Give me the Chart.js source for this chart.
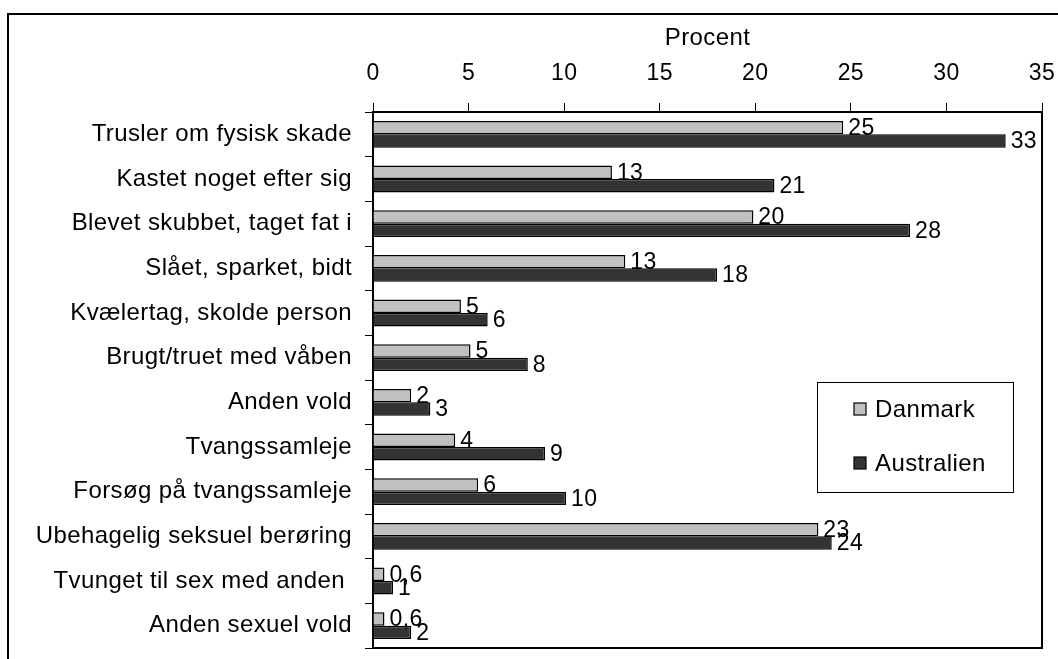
<!DOCTYPE html>
<html>
<head>
<meta charset="utf-8">
<script src="https://cdn.jsdelivr.net/npm/chart.js@4"></script>
<style>
    html, body { margin: 0; padding: 0; background: #fff; overflow: hidden; }
    #frame {
        position: absolute; left: 7px; top: 13px; width: 1200px; height: 800px;
        border-left: 2px solid #000; border-top: 2px solid #000;
    }
    #chart_id { position: absolute; left: 0; top: 0; }
</style>
</head>
<body>
<div id="frame"></div>
<canvas id="chart_id" width="1058" height="659"></canvas>
<script>
const categories = [
    'Trusler om fysisk skade',
    'Kastet noget efter sig',
    'Blevet skubbet, taget fat i',
    'Slået, sparket, bidt',
    'Kvælertag, skolde person',
    'Brugt/truet med våben',
    'Anden vold',
    'Tvangssamleje',
    'Forsøg på tvangssamleje',
    'Ubehagelig seksuel berøring',
    'Tvunget til sex med anden ',
    'Anden sexuel vold'
];
// bar lengths
const danmark = [24.6, 12.5, 19.9, 13.2, 4.6, 5.1, 2.0, 4.3, 5.5, 23.3, 0.6, 0.6];
const australien = [33.1, 21.0, 28.1, 18.0, 6.0, 8.1, 3.0, 9.0, 10.1, 24.0, 1.05, 2.0];
// printed labels next to the bars
const danmarkLabels = ['25', '13', '20', '13', '5', '5', '2', '4', '6', '23', '0,6', '0,6'];
const australienLabels = ['33', '21', '28', '18', '6', '8', '3', '9', '10', '24', '1', '2'];
const seriesNames = ['Danmark', 'Australien'];

const COLORS = {
    LIGHT: '#c0c0c0',
    DARK: '#333333',
    BLACK: '#000000'
};
const FONT = '"Liberation Sans", Arial, sans-serif';
const SPACING = '0.4px';

Chart.defaults.color = COLORS.BLACK;
Chart.defaults.font.family = FONT;
Chart.defaults.font.size = 24;

// canvas letter spacing, source text is set a bit loose
const spacingPlugin = {
    id: 'spacing',
    beforeUpdate(chart) { chart.ctx.letterSpacing = SPACING; },
    beforeDraw(chart) { chart.ctx.letterSpacing = SPACING; }
};

const valueLabelPlugin = {
    id: 'valueLabels',
    afterDatasetsDraw(chart) {
        const ctx = chart.ctx;
        ctx.save();
        ctx.letterSpacing = SPACING;
        ctx.font = '23px ' + FONT;
        ctx.fillStyle = COLORS.BLACK;
        ctx.textAlign = 'left';
        ctx.textBaseline = 'middle';
        [danmarkLabels, australienLabels].forEach((labels, di) => {
            chart.getDatasetMeta(di).data.forEach((bar, i) => {
                ctx.fillText(labels[i], bar.x + 5, bar.y + 1);
            });
        });
        ctx.restore();
    }
};

const boxPlugin = {
    id: 'plotBox',
    afterDraw(chart) {
        const ctx = chart.ctx;
        const a = chart.chartArea;
        ctx.save();
        ctx.strokeStyle = COLORS.BLACK;
        ctx.lineWidth = 2;
        ctx.beginPath();
        ctx.moveTo(a.left, a.top);
        ctx.lineTo(a.right, a.top);
        ctx.lineTo(a.right, a.bottom);
        ctx.lineTo(a.left - 1, a.bottom);
        ctx.stroke();
        ctx.fillStyle = COLORS.BLACK;
        ctx.fillRect(a.left - 1, a.bottom - 1, a.right - a.left + 2, 2);

        // legend box inside the plot
        const x = a.right - 225, y = a.top + 270, w = 196, h = 110;
        ctx.lineWidth = 1;
        ctx.fillStyle = '#fff';
        ctx.fillRect(x, y, w, h);
        ctx.strokeRect(x + 0.5, y + 0.5, w, h);
        ctx.letterSpacing = SPACING;
        ctx.font = '24px ' + FONT;
        ctx.textAlign = 'left';
        ctx.textBaseline = 'middle';
        chart.data.datasets.forEach((ds, i) => {
            const cy = y + 27 + i * 54;
            ctx.fillStyle = ds.backgroundColor;
            ctx.fillRect(x + 37, cy - 6, 12, 12);
            ctx.strokeStyle = COLORS.BLACK;
            ctx.lineWidth = 1.2;
            ctx.strokeRect(x + 37, cy - 6, 12, 12);
            ctx.fillStyle = COLORS.BLACK;
            ctx.fillText(ds.label, x + 58, cy + 1);
        });
        ctx.restore();
    }
};

// drop the extra room chart.js keeps for edge labels
const noEdgePadding = (scale) => {
    scale.paddingTop = 0;
    scale.paddingBottom = 0;
    scale.paddingLeft = 0;
    scale.paddingRight = 0;
};

const config = {
    type: 'bar',
    data: {
        labels: categories,
        datasets: [
            {
                label: seriesNames[0],
                data: danmark,
                backgroundColor: COLORS.LIGHT,
                borderColor: COLORS.BLACK,
                borderWidth: 1.5,
                categoryPercentage: 0.6,
                barPercentage: 1.0
            },
            {
                label: seriesNames[1],
                data: australien,
                backgroundColor: COLORS.DARK,
                borderColor: COLORS.BLACK,
                borderWidth: 1.5,
                categoryPercentage: 0.6,
                barPercentage: 1.0
            }
        ]
    },
    options: {
        indexAxis: 'y',
        responsive: false,
        animation: false,
        layout: {
            padding: { top: 14, right: 16, bottom: 11, left: 0 }
        },
        plugins: {
            legend: { display: false },
            tooltip: { enabled: false }
        },
        scales: {
            x: {
                position: 'top',
                min: 0,
                max: 35,
                ticks: { stepSize: 5, padding: 16, font: { size: 23, lineHeight: 1.2 } },
                grid: { drawOnChartArea: false, tickLength: 9, color: COLORS.BLACK },
                border: { color: COLORS.BLACK, width: 2 },
                title: {
                    display: true,
                    text: 'Procent',
                    font: { size: 24, lineHeight: 1.2 },
                    padding: { top: 10, bottom: 5 }
                },
                afterFit: (scale) => {
                    scale.height = 98;
                    noEdgePadding(scale);
                }
            },
            y: {
                ticks: { padding: 13, font: { size: 24 } },
                grid: { drawOnChartArea: false, offset: true, tickLength: 8, color: COLORS.BLACK },
                border: { color: COLORS.BLACK, width: 2 },
                afterFit: (scale) => {
                    scale.width = 373;
                    noEdgePadding(scale);
                }
            }
        }
    },
    plugins: [spacingPlugin, valueLabelPlugin, boxPlugin]
};

const newChart = new Chart(document.getElementById('chart_id'), config);
</script>
</body>
</html>
